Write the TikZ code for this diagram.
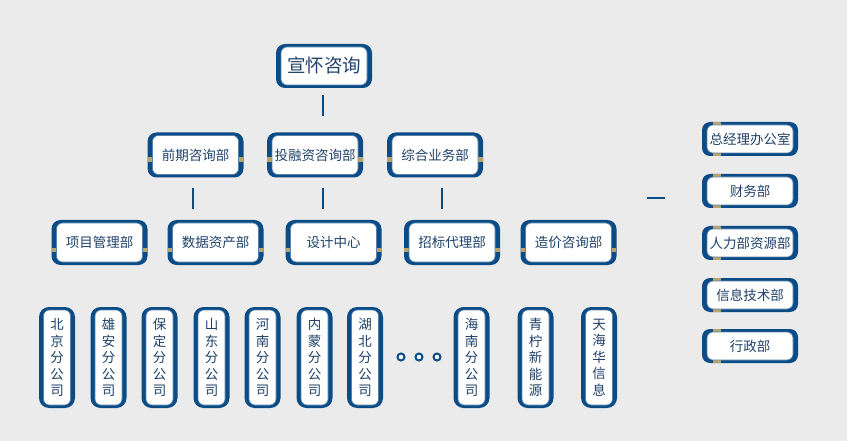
\documentclass[tikz,border=0pt]{standalone}
\usepackage{fontspec}
\setmainfont{Noto Sans CJK SC}
\definecolor{bgc}{HTML}{EBEBEB}
\definecolor{bluec}{HTML}{0C4C86}
\definecolor{goldc}{HTML}{B8A46B}
\definecolor{txtc}{HTML}{1F4168}
\tikzset{
  innerbox/.style={fill=white, draw=bluec!70, line width=0.6pt, rounded corners=6pt,
    text=txtc, inner sep=0pt, font=\fontsize{13.5}{16}\selectfont},
  conn/.style={draw=bluec, line width=2pt},
  dotc/.style={circle, draw=bluec, line width=2pt, fill=white, minimum size=7pt, inner sep=0pt}
}
% #1 name, #2 cx, #3 cy, #4 w, #5 h, #6 text, #7 mode (0 none,1 side band row2,2 side band row3,3 top/bottom), #8 radius, #9 extra node options
\newcommand\obox[9]{%
  \pgfmathsetmacro\xl{#2-#4/2}\pgfmathsetmacro\xr{#2+#4/2}%
  \pgfmathsetmacro\yt{#3-#5/2}\pgfmathsetmacro\yb{#3+#5/2}%
  \fill[bluec, rounded corners=#8pt] (\xl,\yt) rectangle (\xr,\yb);
  \ifcase#7\relax
  \or
    \begin{scope}
      \clip[rounded corners=#8pt] (\xl,\yt) rectangle (\xr,\yb);
      \fill[goldc] (\xl,#3+2.5) rectangle (\xr,#3+7.5);
    \end{scope}
  \or
    \begin{scope}
      \clip[rounded corners=#8pt] (\xl,\yt) rectangle (\xr,\yb);
      \fill[goldc] (\xl,#3+5.5) rectangle (\xr,#3+10);
    \end{scope}
  \or
    \fill[goldc] (\xl+11,\yt) rectangle (\xl+19,\yt+3);
    \fill[goldc] (\xl+11,\yb-3) rectangle (\xl+19,\yb);
  \fi
  \node[innerbox, minimum width={(#4-10)*1pt}, minimum height={(#5-6)*1pt}, #9] (#1) at (#2,#3) {#6};
}
\begin{document}
\begin{tikzpicture}[x=1pt,y=-1pt]
\fill[bgc] (0,0) rectangle (847,441);
\useasboundingbox (0,0) rectangle (847,441);

% top
\obox{top}{324}{66}{96}{44}{宣怀咨询}{0}{9}{font=\fontsize{18.5}{20}\selectfont}

% row 2
\obox{qq}{195.5}{155}{96}{45}{前期咨询部}{1}{9}{}
\obox{tr}{315}{155}{96}{45}{投融资咨询部}{1}{9}{}
\obox{zh}{435}{155}{96}{45}{综合业务部}{1}{9}{}

% row 3
\obox{xm}{99.5}{242.5}{96}{45}{项目管理部}{2}{9}{}
\obox{sj}{215.5}{242.5}{96}{45}{数据资产部}{2}{9}{}
\obox{sh}{333.5}{242.5}{96}{45}{设计中心}{2}{9}{}
\obox{zb}{452}{242.5}{96}{45}{招标代理部}{2}{9}{}
\obox{zj}{568.5}{242.5}{96}{45}{造价咨询部}{2}{9}{}

% row 4
\tikzset{vtext/.style={align=center, font=\fontsize{13.5}{16.5}\selectfont, minimum width=27pt}}
\obox{bj}{57}{357.5}{36}{101}{北\\京\\分\\公\\司}{0}{10}{vtext}
\obox{xa}{108.5}{357.5}{36}{101}{雄\\安\\分\\公\\司}{0}{10}{vtext}
\obox{bd}{159.5}{357.5}{36}{101}{保\\定\\分\\公\\司}{0}{10}{vtext}
\obox{sd}{211.5}{357.5}{36}{101}{山\\东\\分\\公\\司}{0}{10}{vtext}
\obox{hn}{262.5}{357.5}{36}{101}{河\\南\\分\\公\\司}{0}{10}{vtext}
\obox{nm}{314.5}{357.5}{36}{101}{内\\蒙\\分\\公\\司}{0}{10}{vtext}
\obox{hb}{365}{357.5}{36}{101}{湖\\北\\分\\公\\司}{0}{10}{vtext}
\obox{hai}{471.5}{357.5}{36}{101}{海\\南\\分\\公\\司}{0}{10}{vtext}
\obox{qn}{535.5}{357.5}{36}{101}{青\\柠\\新\\能\\源}{0}{10}{vtext}
\obox{th}{599}{357.5}{36}{101}{天\\海\\华\\信\\息}{0}{10}{vtext}

\node[dotc] (d1) at (401,357) {};
\node[dotc] (d2) at (419,357) {};
\node[dotc] (d3) at (437,357) {};

% right column
\obox{zjl}{750}{139}{96}{34}{总经理办公室}{3}{8}{}
\obox{cw}{750}{191}{96}{34}{财务部}{3}{8}{}
\obox{rl}{750}{243}{96}{34}{人力部资源部}{3}{8}{}
\obox{xx}{750}{295}{96}{34}{信息技术部}{3}{8}{}
\obox{xz}{750}{346}{96}{34}{行政部}{3}{8}{}

% connectors (short floating strokes)
\coordinate (a1) at (323,95);  \coordinate (a2) at (323,116);
\coordinate (b1) at (193,188); \coordinate (b2) at (193,209);
\coordinate (c1) at (323,188); \coordinate (c2) at (323,209);
\coordinate (e1) at (442,188); \coordinate (e2) at (442,209);
\coordinate (f1) at (647,198); \coordinate (f2) at (665,198);
\draw[conn] (a1) -- (a2);
\draw[conn] (b1) -- (b2);
\draw[conn] (c1) -- (c2);
\draw[conn] (e1) -- (e2);
\draw[conn] (f1) -- (f2);
\end{tikzpicture}
\end{document}
